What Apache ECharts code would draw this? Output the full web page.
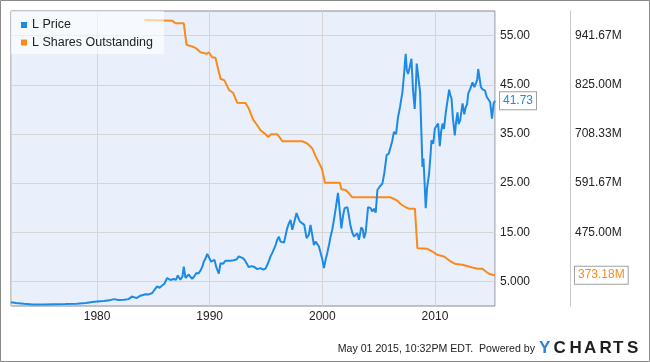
<!DOCTYPE html>
<html><head><meta charset="utf-8">
<script src="https://cdn.jsdelivr.net/npm/echarts@6/dist/echarts.min.js"></script>
<style>html,body{margin:0;padding:0;background:#fff}#c{width:650px;height:362px}</style>
</head><body><div id="c"></div>
<script>
// ---- Data ----
const priceYears = [1972.36,1972.8,1973.5,1974.3,1975.2,1976.2,1977.2,1978.2,1979.0,1979.6,1980.0,1980.6,1981.1,1981.5,1981.9,1982.4,1982.8,1983.1,1983.5,1983.85,1984.3,1984.6,1984.9,1985.1,1985.33,1985.55,1985.78,1986.0,1986.22,1986.5,1986.81,1987.0,1987.17,1987.4,1987.58,1987.7,1987.85,1988.14,1988.44,1988.62,1988.82,1989.0,1989.18,1989.35,1989.47,1989.62,1989.78,1989.92,1990.13,1990.3,1990.42,1990.6,1990.81,1990.96,1991.2,1991.4,1991.55,1991.85,1992.14,1992.4,1992.58,1992.73,1992.9,1993.09,1993.3,1993.47,1993.7,1993.92,1994.22,1994.51,1994.75,1994.96,1995.2,1995.4,1995.6,1995.85,1996.0,1996.14,1996.29,1996.44,1996.6,1996.73,1996.88,1997.03,1997.18,1997.33,1997.5,1997.71,1997.85,1998.0,1998.22,1998.4,1998.6,1998.8,1998.95,1999.1,1999.25,1999.4,1999.55,1999.7,1999.85,2000.0,2000.14,2000.3,2000.44,2000.6,2000.73,2000.88,2001.03,2001.2,2001.39,2001.5,2001.69,2001.85,2001.98,2002.22,2002.35,2002.51,2002.65,2002.81,2003.1,2003.25,2003.46,2003.6,2003.7,2003.85,2004.06,2004.29,2004.44,2004.6,2004.74,2004.89,2005.1,2005.33,2005.5,2005.71,2005.9,2006.07,2006.2,2006.36,2006.55,2006.72,2006.9,2007.11,2007.25,2007.4,2007.5,2007.61,2007.75,2007.91,2008.05,2008.2,2008.3,2008.38,2008.5,2008.68,2008.8,2008.89,2008.98,2009.18,2009.3,2009.48,2009.6,2009.69,2009.85,2009.99,2010.15,2010.28,2010.43,2010.55,2010.67,2010.8,2010.96,2011.1,2011.26,2011.35,2011.47,2011.6,2011.76,2011.88,2012.0,2012.1,2012.24,2012.45,2012.6,2012.74,2012.85,2012.95,2013.1,2013.34,2013.5,2013.63,2013.75,2013.84,2013.95,2014.08,2014.25,2014.44,2014.6,2014.73,2014.9,2015.06,2015.21,2015.33];
const priceValues = [0.74,0.6,0.45,0.33,0.3,0.36,0.4,0.48,0.6,0.8,0.9,1.0,1.15,1.4,1.2,1.25,1.4,1.95,1.6,2.1,2.4,2.35,2.65,3.3,4.0,3.7,4.15,4.6,5.7,5.3,5.5,5.3,6.2,5.35,6.0,8.0,5.7,6.4,5.5,6.0,6.7,6.6,7.2,8.0,9.0,9.6,10.6,10.5,9.0,9.1,9.4,7.8,6.6,8.7,8.6,9.2,9.05,9.2,9.3,9.5,10.1,10.4,9.8,9.4,8.6,7.9,8.1,8.0,7.5,7.7,7.4,7.6,8.8,10.1,11.0,12.4,13.5,14.1,13.1,13.1,12.9,13.3,15.8,16.8,17.5,15.5,17.0,18.9,18.0,17.2,16.8,16.5,13.8,14.5,16.5,14.5,12.4,13.1,12.8,12.1,10.8,9.5,7.7,9.5,10.8,12.5,14.1,15.5,17.5,20.0,23.0,20.5,15.8,18.5,19.9,20.1,18.5,16.2,15.0,14.1,14.8,13.45,16.0,15.5,13.8,15.0,20.1,19.9,19.2,19.8,19.0,23.6,24.3,24.9,27.0,30.7,31.0,32.4,33.5,35.4,35.0,38.4,40.5,43.5,47.0,51.3,48.0,47.2,48.5,50.3,44.0,40.1,44.5,49.3,47.0,43.5,35.0,28.3,30.0,19.9,24.0,27.0,30.5,33.7,33.0,36.1,36.5,37.1,32.5,35.5,37.1,36.0,39.4,41.5,44.0,43.0,42.2,38.0,34.7,37.5,39.4,37.0,37.8,41.2,39.0,40.5,41.0,43.2,44.0,45.5,44.5,44.9,46.0,48.2,47.8,44.5,44.0,43.85,42.5,42.8,41.5,38.1,41.2,41.73];
const shareYears = [1984.2,1986.66,1986.96,1987.7,1987.94,1988.44,1988.74,1989.18,1989.71,1989.92,1990.22,1990.51,1990.96,1991.31,1991.7,1992.09,1992.44,1993.18,1993.47,1993.86,1994.22,1994.51,1994.96,1995.2,1995.46,1995.99,1996.29,1996.44,1998.22,1998.66,1999.11,1999.4,1999.91,1999.99,2000.23,2001.56,2001.69,2002.07,2002.36,2002.66,2006.06,2006.36,2006.66,2006.95,2007.4,2007.69,2008.22,2008.44,2009.33,2009.77,2010.21,2010.8,2011.4,2011.84,2012.44,2013.32,2013.77,2014.21,2014.51,2014.8,2015.1,2015.33];
const shareValues = [978.8,977.1,970.8,970.8,919.7,915.7,912.6,902.2,898.4,902.2,890.4,888.9,839.3,835.3,813.3,805.3,782.5,781.6,768.4,742.3,728.9,717.0,707.6,701.2,707.6,707.6,697.4,691.0,691.0,685.6,673.8,655.6,628.8,622.5,592.4,592.4,576.8,575.2,567.4,557.9,557.9,553.9,549.9,542.1,534.3,531.0,531.0,437.3,435.7,429.3,421.5,417.4,405.6,399.5,397.8,391.4,388.4,388.4,382.0,376.5,374.1,373.18];
const xTickYears = [1980, 1990, 2000, 2010];
const priceTickValues = [5, 15, 25, 35, 45, 55];
const priceTickLabels = ['5.000', '15.00', '25.00', '35.00', '45.00', '55.00'];
const shareTickValues = [475, 591.67, 708.33, 825, 941.67];
const shareTickLabels = ['475.00M', '591.67M', '708.33M', '825.00M', '941.67M'];
const priceRange = [0, 60];
const shareRange = [300, 1000];
const seriesNames = ['L Price', 'L Shares Outstanding'];
const footerText = 'May 01 2015, 10:32PM EDT.  Powered by';

// ---- Chart ----
const BLUE = '#1d8ae6', ORANGE = '#fa8a1c', FONT = '"Liberation Sans", Arial, sans-serif';
const chart = echarts.init(document.getElementById('c'), null, {renderer: 'canvas'});
function lookup(vals, labels, v) {
  for (let i = 0; i < vals.length; i++) if (Math.abs(vals[i] - v) < 0.5) return labels[i];
  return '';
}
const logo = ['Y','C','H','A','R','T','S'];
const logoX = [539, 553.5, 569.5, 584, 599.5, 613, 627];
const graphics = [
  {type: 'rect', shape: {x: 0.5, y: 0.5, width: 649, height: 361}, style: {fill: 'none', stroke: '#8a8a8a', lineWidth: 1}, z: 100},
  {type: 'text', x: 535, y: 349, style: {text: footerText, font: '10.6px ' + FONT, fill: '#222', textAlign: 'right', textVerticalAlign: 'middle'}}
];
logo.forEach((ch, i) => graphics.push({type: 'text', x: logoX[i], y: 348, style: {text: ch, font: 'bold 17px ' + FONT, fill: i === 0 ? '#2b82d6' : '#1e1e1e', textAlign: 'left', textVerticalAlign: 'middle'}}));

chart.setOption({
  animation: false,
  textStyle: {fontFamily: FONT},
  graphic: graphics,
  legend: {
    left: 11, top: 11, orient: 'vertical', itemGap: 4.5, itemWidth: 6, itemHeight: 6, icon: 'rect',
    padding: [7.5, 11, 5, 10], backgroundColor: 'rgba(255,255,255,0.6)',
    textStyle: {fontSize: 12.5, color: '#222', fontFamily: FONT},
    data: seriesNames
  },
  grid: {left: 11, top: 11, right: 155, bottom: 56, show: true, backgroundColor: '#e9f0fb', borderColor: '#8a8a8a', borderWidth: 1},
  xAxis: {
    type: 'value', min: priceYears[0], max: priceYears[priceYears.length - 1],
    minInterval: 10, maxInterval: 10,
    axisLine: {show: false}, axisTick: {show: false},
    axisLabel: {margin: 5, fontSize: 12, color: '#222', showMinLabel: false, showMaxLabel: false,
      formatter: v => { const r = Math.round(v); return (Math.abs(v - r) < 0.01 && xTickYears.includes(r)) ? String(r) : ''; }},
    splitLine: {show: true, lineStyle: {color: '#d5d5d5', width: 1}}
  },
  yAxis: [
    {
      type: 'value', position: 'right', min: priceRange[0], max: priceRange[1], interval: 5,
      axisLine: {show: false}, axisTick: {show: false},
      axisLabel: {margin: 5, fontSize: 12, color: '#222', formatter: v => lookup(priceTickValues, priceTickLabels, v)},
      splitLine: {show: true, showMinLine: true, lineStyle: {color: ['rgba(0,0,0,0)', '#d5d5d5'], width: 1}}
    },
    {
      type: 'value', position: 'right', offset: 75, min: shareRange[0], max: shareRange[1], interval: (shareRange[1] - shareRange[0]) / 12,
      axisLine: {show: true, lineStyle: {color: '#c8c8c8', width: 1}}, axisTick: {show: false},
      axisLabel: {margin: 5, fontSize: 12, color: '#222', formatter: v => lookup(shareTickValues, shareTickLabels, v)},
      splitLine: {show: false}
    }
  ],
  series: [
    {
      name: seriesNames[0], type: 'line', yAxisIndex: 0, z: 3, showSymbol: false, symbol: 'none',
      color: BLUE, lineStyle: {color: BLUE, width: 2},
      data: priceYears.map((y, i) => [y, priceValues[i]]),
      endLabel: {show: true, distance: 5, formatter: p => p.value[1].toFixed(2), color: BLUE, fontSize: 12,
        backgroundColor: '#fff', borderColor: '#a0a0a0', borderWidth: 1, padding: [3, 3, 2, 3]}
    },
    {
      name: seriesNames[1], type: 'line', yAxisIndex: 1, z: 2, showSymbol: false, symbol: 'none',
      color: ORANGE, lineStyle: {color: ORANGE, width: 2},
      data: shareYears.map((y, i) => [y, shareValues[i]]),
      endLabel: {show: true, distance: 5, offset: [75, 0], formatter: p => p.value[1].toFixed(2) + 'M', color: ORANGE, fontSize: 12,
        backgroundColor: '#fff', borderColor: '#a0a0a0', borderWidth: 1, padding: [3, 3, 2, 3]}
    }
  ]
});
</script></body></html>
